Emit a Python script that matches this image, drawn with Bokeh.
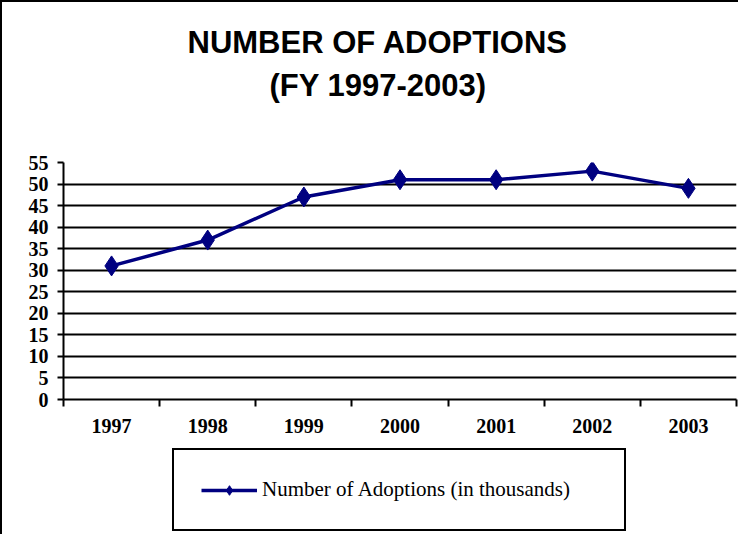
from bokeh.plotting import figure
from bokeh.models import (FixedTicker, Title, Range1d, Legend)
from bokeh.layouts import column
from bokeh.embed import file_html
from bokeh.resources import INLINE
import numpy as np

years = ["1997", "1998", "1999", "2000", "2001", "2002", "2003"]
adoptions = [31, 37, 47, 51, 51, 53, 49]
y_ticks = list(range(0, 56, 5))
title_line1 = "NUMBER OF ADOPTIONS"
title_line2 = "(FY 1997-2003)"
series_name = "Number of Adoptions (in thousands)"

line_color = "#000080"
xs = np.arange(len(years)) + 0.5

# ---------------- main chart ----------------
p = figure(frame_width=673, frame_height=237, output_backend="svg", toolbar_location=None,
           x_range=Range1d(0, len(years)), y_range=Range1d(0, 55),
           min_border_left=61, min_border_right=2, min_border_top=160,
           min_border_bottom=49)
p.outline_line_color = None
p.background_fill_color = "white"
p.border_fill_color = "white"

p.line(xs, adoptions, line_color=line_color, line_width=3.5)
p.scatter(xs, adoptions, marker="diamond", size=20, fill_color=line_color,
          line_color=line_color, line_width=1)

p.xaxis.ticker = FixedTicker(ticks=list(xs), minor_ticks=list(range(len(years) + 1)))
p.xaxis.major_label_overrides = {float(x): y for x, y in zip(xs, years)}
p.xaxis.major_tick_out = 0
p.xaxis.major_tick_in = 0
p.xaxis.minor_tick_out = 7
p.xaxis.minor_tick_in = 0
p.xaxis.minor_tick_line_color = "black"
p.xaxis.minor_tick_line_width = 2
p.xaxis.axis_line_width = 2
p.xaxis.axis_line_color = "black"
p.xaxis.major_label_text_font = "Liberation Serif"
p.xaxis.major_label_text_font_style = "bold"
p.xaxis.major_label_text_font_size = "20px"
p.xaxis.major_label_text_color = "black"
p.xaxis.major_label_standoff = 12

p.yaxis.ticker = FixedTicker(ticks=y_ticks, minor_ticks=[])
p.yaxis.major_tick_out = 6
p.yaxis.major_tick_in = 0
p.yaxis.major_tick_line_width = 2
p.yaxis.major_tick_line_color = "black"
p.yaxis.axis_line_width = 2
p.yaxis.axis_line_color = "black"
p.yaxis.major_label_text_font = "Liberation Serif"
p.yaxis.major_label_text_font_style = "bold"
p.yaxis.major_label_text_font_size = "20px"
p.yaxis.major_label_text_color = "black"
p.yaxis.major_label_standoff = 9

p.xgrid.visible = False
p.ygrid.ticker = FixedTicker(ticks=y_ticks)
p.ygrid.grid_line_color = "black"
p.ygrid.grid_line_width = 2

# titles (first added = closest to the frame)
p.add_layout(Title(text=" ", text_font_size="10px", standoff=47), "above")
for txt, so, off in [(title_line2, 0, 206), (title_line1, 11, 124)]:
    p.add_layout(Title(text=txt, align="left", offset=off, text_font="Liberation Sans",
                       text_font_style="bold", text_font_size="31px",
                       text_color="black", standoff=so), "above")

# ---------------- legend strip (same frame columns as the chart) ----------------
q = figure(frame_width=673, frame_height=86, output_backend="svg", toolbar_location=None,
           x_range=Range1d(0, len(years)), y_range=Range1d(0, 1),
           x_axis_type=None, y_axis_type=None,
           min_border_left=61, min_border_right=2, min_border_top=0,
           min_border_bottom=0)
q.outline_line_color = None
q.background_fill_color = "white"
q.border_fill_color = "white"
# same series, drawn outside this strip's visible y-range: only its legend glyph shows
lr = q.line(xs, adoptions, line_color=line_color, line_width=3.5)
ls = q.scatter(xs, adoptions, marker="diamond", size=20, fill_color=line_color,
               line_color=line_color)
legend = Legend(items=[(series_name, [lr, ls])], location=(109, 3),
                padding=27, margin=0, glyph_width=56, glyph_height=24,
                label_height=24, label_width=335, label_standoff=5,
                border_line_color="black", border_line_alpha=1, border_line_width=2,
                background_fill_color="white", background_fill_alpha=1,
                label_text_font="Liberation Serif", label_text_font_size="21px",
                label_text_color="black")
q.add_layout(legend, "center")

layout = column(p, q, spacing=0)
layout.styles = {"border-left": "2px solid black", "border-top": "2px solid black"}

open("out.html", "w").write(file_html(layout, INLINE))
